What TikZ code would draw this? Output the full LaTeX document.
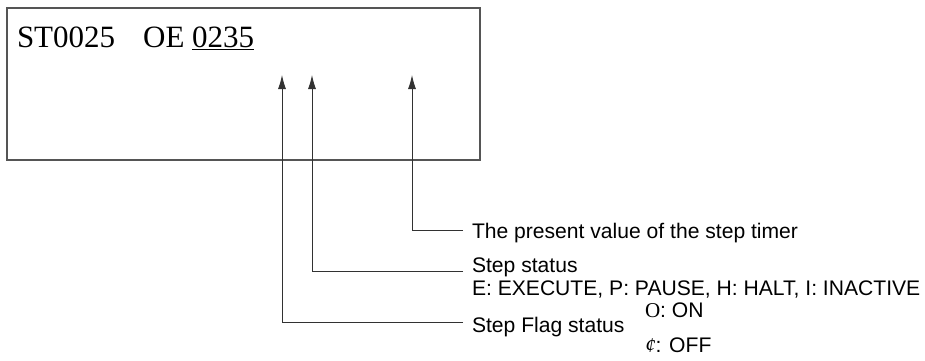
\documentclass[tikz,border=0pt]{standalone}
\usepackage{fontspec}
\setmainfont{Liberation Serif}
\setsansfont{Liberation Sans}
\usetikzlibrary{arrows.meta,positioning}
\definecolor{framegray}{RGB}{85,85,85}
\definecolor{leadgray}{RGB}{50,50,50}

\begin{document}
\begin{tikzpicture}[x=1pt, y=-1pt,
  every node/.style={inner sep=0pt, outer sep=0pt},
  lbl/.style={font=\sffamily\fontsize{21.1}{23}\selectfont, anchor=base west},
  lead/.style={draw=leadgray, line width=0.9pt, -{Latex[length=14pt,width=8pt]}}]
  \useasboundingbox (0,0) rectangle (925,360);
  % display panel
  \draw[framegray, line width=1.2pt] (7,8) rectangle (480,160);
  \node[anchor=base west, font=\fontsize{31}{31}\selectfont] (disp) at (17,47)
    {ST0025\hspace{28pt}OE \underline{0235}};
  % arrow tips under the display
  \coordinate (tipflag) at (282,75);
  \coordinate (tipstat) at (312,75);
  \coordinate (tiptime) at (412,75);
  % labels
  \node[lbl] (time) at (472,238) {The present value of the step timer};
  \node[lbl] (stat) at (472,272) {Step status};
  \node[lbl] (codes) at (472,295) {E: EXECUTE, P: PAUSE, H: HALT, I: INACTIVE};
  \node[lbl] (flag) at (472,332) {Step Flag status};
  \node[lbl] (on) at (645,317) {\rmfamily O\sffamily: ON};
  \node[lbl] (off) at (645,352) {\rmfamily\itshape ¢\upshape\sffamily: OFF};
  % leaders
  \draw[lead] ([xshift=-9pt,yshift=8pt]time.base west) -| (tiptime);
  \draw[lead] ([xshift=-9pt,yshift=1pt]stat.base west) -| (tipstat);
  \draw[lead] ([xshift=-9pt,yshift=10pt]flag.base west) -| (tipflag);
\end{tikzpicture}
\end{document}
